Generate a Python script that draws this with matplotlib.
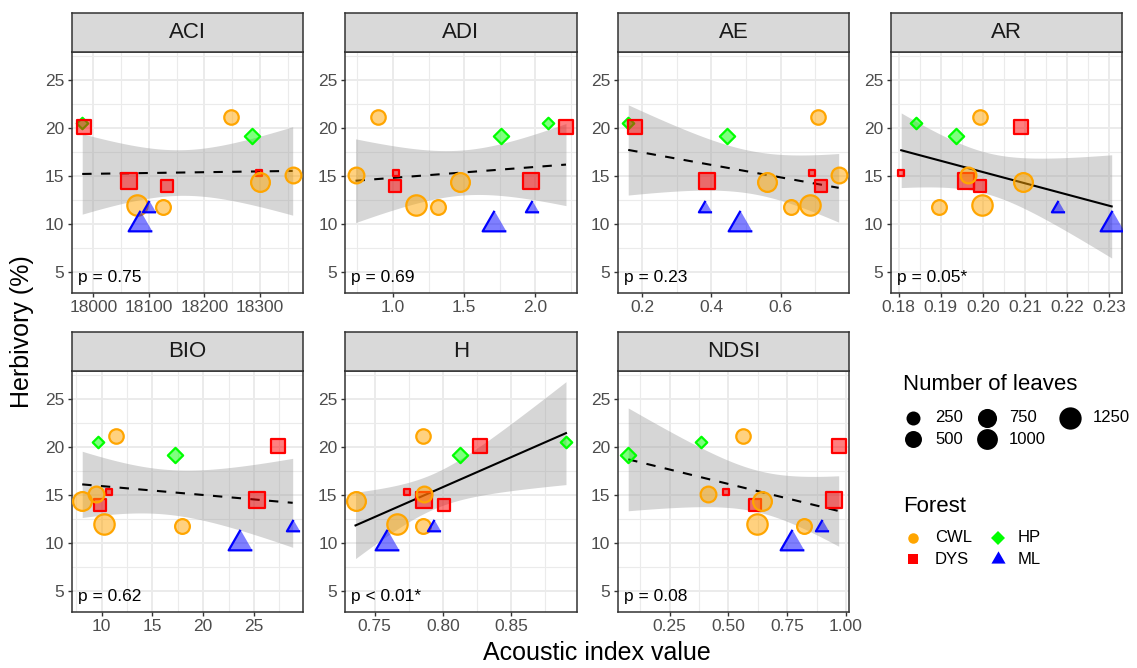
# Herbivory vs acoustic indices, one panel per index (facet style)
import numpy as np
import matplotlib.pyplot as plt
from matplotlib.ticker import MultipleLocator, FormatStrFormatter
from matplotlib.colors import to_rgba
import matplotlib.transforms as mtransforms

plt.rcParams['font.family'] = ['Liberation Sans', 'DejaVu Sans']

# one row per site
forest = ['HP', 'HP', 'DYS', 'DYS', 'DYS', 'DYS', 'CWL', 'CWL', 'CWL', 'CWL', 'CWL', 'ML', 'ML']
herbivory = [20.5, 19.1, 20.1, 14.5, 13.9, 15.3, 21.1, 12.0, 11.8, 14.4, 15.1, 11.7, 10.0]
leaves = [130, 280, 710, 1000, 300, 100, 470, 1300, 500, 1030, 610, 150, 850]

aci = [17980, 18285, 17983, 18064, 18133, 18298, 18248, 18079, 18125, 18300, 18359, 18100, 18084]
adi = [2.086, 1.756, 2.214, 1.970, 1.014, 1.021, 0.893, 1.160, 1.314, 1.470, 0.737, 1.974, 1.709]
ae = [0.160, 0.445, 0.181, 0.388, 0.716, 0.690, 0.707, 0.684, 0.630, 0.561, 0.768, 0.381, 0.484]
ar = [0.1840, 0.1935, 0.2091, 0.1959, 0.1994, 0.1806, 0.1993, 0.1997, 0.1896, 0.2096, 0.1965, 0.2179, 0.2306]
bio = [9.61, 17.21, 27.39, 25.33, 9.84, 10.75, 11.41, 10.26, 17.96, 8.07, 9.44, 28.83, 23.63]
h = [0.8902, 0.8129, 0.8276, 0.7861, 0.8012, 0.7739, 0.7856, 0.7666, 0.7856, 0.7361, 0.7866, 0.7934, 0.7588]
ndsi = [0.383, 0.0744, 0.969, 0.951, 0.614, 0.490, 0.562, 0.623, 0.822, 0.642, 0.414, 0.899, 0.770]

index_names = ['ACI', 'ADI', 'AE', 'AR', 'BIO', 'H', 'NDSI']
index_values = [aci, adi, ae, ar, bio, h, ndsi]
p_labels = ['p = 0.75', 'p = 0.69', 'p = 0.23', 'p = 0.05*', 'p = 0.62', 'p < 0.01*', 'p = 0.08']
significant = [False, False, False, True, False, True, False]
tick_step = [100, 0.5, 0.2, 0.01, 5, 0.05, 0.25]
tick_fmt = ['%d', '%.1f', '%.1f', '%.2f', '%d', '%.2f', '%.2f']

size_breaks = [250, 500, 750, 1000, 1250]
forest_levels = ['CWL', 'DYS', 'HP', 'ML']
forest_colors = {'CWL': '#FFA500', 'DYS': '#FF0000', 'HP': '#00FF00', 'ML': '#0000FF'}

# marker shapes, with factor so that all shapes have equal area for same size
tri = [(0, 1.555), (-1.347, -0.778), (1.347, -0.778)]
forest_marker = {'CWL': ('o', 1.0), 'DYS': ('s', 0.886), 'HP': ('D', 0.886), 'ML': (tri, 1.555)}

W, H = 1137, 668
fig = plt.figure(figsize=(W / 100, H / 100), dpi=100)

def px_axes(x0, y0, w, hgt):
    return fig.add_axes([x0 / W, 1 - (y0 + hgt) / H, w / W, hgt / H])

lv_min, lv_max = min(leaves), max(leaves)
def diam_px(n):
    return 9.3 + 13.3 * np.sqrt((np.asarray(n, float) - lv_min) / (lv_max - lv_min))

t975 = 2.201  # t quantile, df = 11
def lm_band(x, y, n=80):
    x = np.asarray(x, float); y = np.asarray(y, float)
    b1, b0 = np.polyfit(x, y, 1)
    xs = np.linspace(x.min(), x.max(), n)
    fit = b0 + b1 * xs
    resid = y - (b0 + b1 * x)
    s = np.sqrt(np.sum(resid ** 2) / (len(x) - 2))
    se = s * np.sqrt(1 / len(x) + (xs - x.mean()) ** 2 / np.sum((x - x.mean()) ** 2))
    return xs, fit, fit - t975 * se, fit + t975 * se

bands = [lm_band(v, herbivory) for v in index_values]
text_y = 4
y_top = max(b[3].max() for b in bands)
y_pad = 0.05 * (y_top - text_y)

col_left = [71.7, 345, 617.7, 890.7]
row_top = [51.7, 370.7]
pw, ph, strip_h = 231.5, 241, 39
edge_lw = 1.6
edge_px = edge_lw * 100 / 72

for k, name in enumerate(index_names):
    r, c = divmod(k, 4)
    ax = px_axes(col_left[c], row_top[r], pw, ph)
    x = np.asarray(index_values[k], float)
    xs, fit, lo, hi = bands[k]

    ax.fill_between(xs, lo, hi, color='#999999', alpha=0.4, lw=0, zorder=2)
    if significant[k]:
        ax.plot(xs, fit, color='black', lw=1.5, zorder=3)
    else:
        ax.plot(xs, fit, color='black', lw=1.5, dashes=(4.5, 4.5), zorder=3)

    for i in range(len(x)):
        f = forest[i]
        mk, fac = forest_marker[f]
        ms = fac * (diam_px(leaves[i]) - edge_px) * 0.72
        ax.scatter(x[i], herbivory[i], s=ms ** 2, marker=mk,
                   facecolor=to_rgba(forest_colors[f], 0.5), edgecolor=forest_colors[f],
                   linewidths=edge_lw, zorder=4 + i * 0.01)

    trans = mtransforms.blended_transform_factory(ax.transAxes, ax.transData)
    ax.text(0.026, text_y, p_labels[k], transform=trans, fontsize=12.5, va='baseline', ha='left', zorder=6)

    xr = x.max() - x.min()
    ax.set_xlim(x.min() - 0.05 * xr, x.max() + 0.05 * xr)
    ax.set_ylim(text_y - y_pad, y_top + y_pad)
    ax.xaxis.set_major_locator(MultipleLocator(tick_step[k]))
    ax.xaxis.set_minor_locator(MultipleLocator(tick_step[k] / 2))
    ax.xaxis.set_major_formatter(FormatStrFormatter(tick_fmt[k]))
    ax.yaxis.set_major_locator(MultipleLocator(5))
    ax.yaxis.set_minor_locator(MultipleLocator(2.5))
    ax.grid(True, which='major', color='#EBEBEB', lw=1.4)
    ax.grid(True, which='minor', color='#EBEBEB', lw=0.8)
    ax.set_axisbelow(True)
    ax.tick_params(which='major', length=2.9, width=1.0, color='#333333',
                   labelsize=12.5, labelcolor='#4D4D4D', pad=2.5)
    ax.tick_params(which='minor', length=0)
    for sp in ax.spines.values():
        sp.set_color('#333333'); sp.set_linewidth(1.1)

    sax = px_axes(col_left[c], row_top[r] - strip_h, pw, strip_h)
    sax.set_facecolor('#D9D9D9')
    sax.set_xticks([]); sax.set_yticks([])
    for sp in sax.spines.values():
        sp.set_color('#333333'); sp.set_linewidth(1.1)
    sax.text(0.5, 0.5, name, transform=sax.transAxes, ha='center', va='center',
             fontsize=16, color='#1A1A1A')

fig.text(597 / W, 1 - 660 / H, 'Acoustic index value', ha='center', va='baseline', fontsize=18)
fig.text(22 / W, 1 - 332 / H, 'Herbivory (%)', ha='center', va='center', rotation=90, fontsize=18)

# legends drawn in pixel space
lax = fig.add_axes([0, 0, 1, 1])
lax.set_xlim(0, W); lax.set_ylim(H, 0); lax.axis('off')

lax.text(903, 385, 'Number of leaves', fontsize=16, va='center', ha='left')
key_x = [913, 987, 1070]
lab_x = [935, 1009, 1093]
key_y = [418, 439]
for i, b in enumerate(size_breaks):
    cc, rr = divmod(i, 2)
    lax.plot(key_x[cc], key_y[rr], marker='o', ms=diam_px(b) * 0.72, color='black', mew=0)
    lax.text(lab_x[cc], key_y[rr], str(b), fontsize=12, va='center', ha='left')

lax.text(903, 507, 'Forest', fontsize=16, va='center', ha='left')
fkey_x = [913, 998]
flab_x = [935, 1018]
fkey_y = [538, 559]
for i, f in enumerate(forest_levels):
    cc, rr = divmod(i, 2)
    mk, fac = forest_marker[f]
    lax.plot(fkey_x[cc], fkey_y[rr], marker=mk, ms=fac * 10.5 * 0.72,
             color=forest_colors[f], mew=0)
    lax.text(flab_x[cc], fkey_y[rr], f, fontsize=12, va='center', ha='left')

plt.savefig('out.png', dpi=100)
